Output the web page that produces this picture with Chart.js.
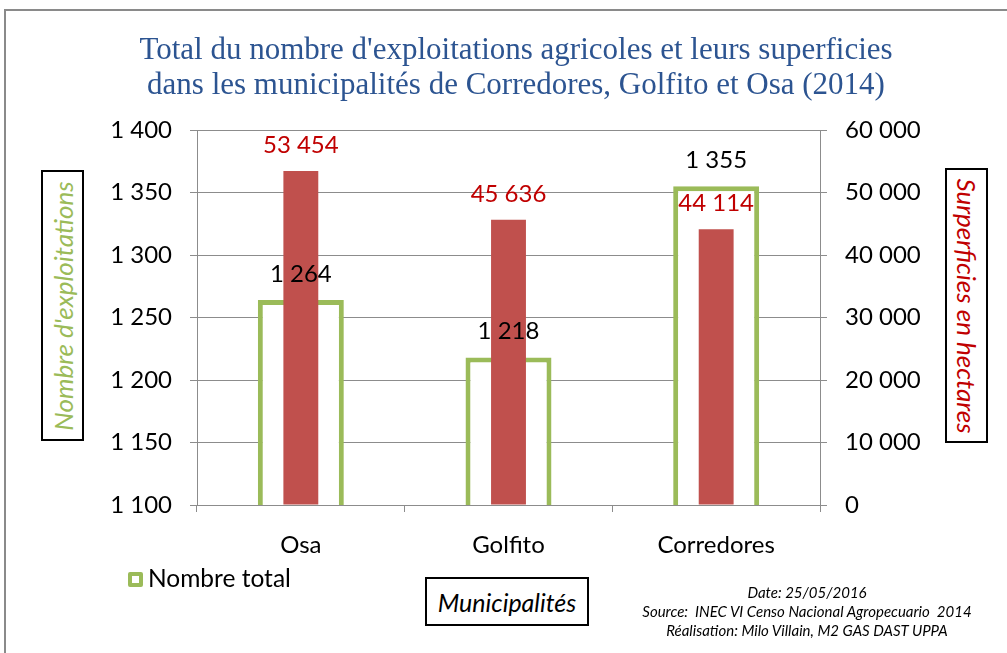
<!DOCTYPE html>
<html>
<head>
<meta charset="utf-8">
<script src="https://cdn.jsdelivr.net/npm/chart.js@4"></script>
<style>
  body { margin: 0; background: #fff; }
  #wrap { position: relative; width: 1007px; height: 653px; overflow: hidden; }
  #frame { position: absolute; left: 4px; top: 9px; width: 1100px; height: 800px; border: 2px solid #8a8a8a; }
  canvas { position: absolute; left: 0; top: 0; }
  .box { position: absolute; border: 2px solid #000; background: #fff; box-sizing: border-box; }
  .vtext { position: absolute; left: 50%; top: 50%; white-space: nowrap; font-family: Lato, sans-serif; font-style: italic; font-size: 26px; }
  #legend { position: absolute; left: 128px; top: 563px; font-family: Lato, sans-serif; font-size: 24.5px; color: #000; }
  #legend span.sw { display: inline-block; width: 15px; height: 15px; box-sizing: border-box; border: 4px solid #9bbb59; border-radius: 2px; vertical-align: 0px; margin-right: 5px; }
  #source { position: absolute; left: 607px; top: 583px; width: 400px; text-align: center; font-family: Lato, sans-serif; font-style: italic; font-size: 15px; line-height: 19px; color: #000; }
</style>
</head>
<body>
<div id="wrap">
  <div id="frame"></div>
  <canvas id="c" width="1007" height="653"></canvas>
  <div class="box" style="left:41px; top:170px; width:43px; height:271px;">
    <div class="vtext" style="color:#9bbb59; transform: translate(-50%,-50%) rotate(-90deg);">Nombre d'exploitations</div>
  </div>
  <div class="box" style="left:945px; top:168px; width:43px; height:275px;">
    <div class="vtext" style="color:#c00000; transform: translate(-50%,-50%) rotate(90deg);">Surperficies en hectares</div>
  </div>
  <div class="box" style="left:425px; top:577px; width:164px; height:49px; display:flex; align-items:center; justify-content:center;">
    <span style="font-family: Lato, sans-serif; font-style: italic; font-size: 25px;">Municipalités</span>
  </div>
  <div id="legend"><span class="sw"></span>Nombre total</div>
  <div id="source">Date: 25/05/2016<br>Source:&nbsp; INEC VI Censo Nacional Agropecuario&nbsp; 2014<br>Réalisation: Milo Villain, M2 GAS DAST UPPA</div>
</div>
<script>
const municipalites = ['Osa', 'Golfito', 'Corredores'];
const nombreTotal = [1264, 1218, 1355];
const superficies = [53454, 45636, 44114];
const titleLines = [
  "Total du nombre d'exploitations agricoles et leurs superficies",
  "dans les municipalités de Corredores, Golfito et Osa (2014)"
];

const GRID = '#8c8c8c';
const fmt = v => String(v).replace(/\B(?=(\d{3})+(?!\d))/g, ' ');

// value labels above each bar
const valueLabels = {
  id: 'valueLabels',
  afterDatasetsDraw(chart) {
    const ctx = chart.ctx;
    ctx.save();
    ctx.font = '24px Lato, sans-serif';
    ctx.textAlign = 'center';
    ctx.textBaseline = 'middle';
    chart.data.datasets.forEach((ds, i) => {
      const meta = chart.getDatasetMeta(i);
      ctx.fillStyle = ds.labelColor;
      meta.data.forEach((bar, j) => {
        ctx.fillText(fmt(ds.data[j]), bar.x, bar.y - 26);
      });
    });
    ctx.restore();
  }
};

new Chart(document.getElementById('c'), {
  type: 'bar',
  data: {
    labels: municipalites,
    datasets: [
      {
        label: 'Superficie',
        data: superficies,
        yAxisID: 'y2',
        backgroundColor: '#c0504d',
        borderWidth: 0,
        grouped: false,
        categoryPercentage: 1,
        barPercentage: 0.168,
        labelColor: '#c00000',
        order: 0
      },
      {
        label: 'Nombre total',
        data: nombreTotal,
        yAxisID: 'y',
        backgroundColor: '#ffffff',
        borderColor: '#9bbb59',
        borderWidth: 5,
        borderSkipped: false,
        grouped: false,
        categoryPercentage: 1,
        barPercentage: 0.414,
        labelColor: '#000000',
        order: 1
      }
    ]
  },
  options: {
    responsive: false,
    animation: false,
    layout: { padding: { top: 33, left: 25, right: 0, bottom: 0 } },
    plugins: {
      legend: { display: false },
      tooltip: { enabled: false },
      title: {
        display: true,
        text: titleLines,
        color: '#2c5491',
        font: { family: 'Liberation Serif', size: 31, weight: 'normal', lineHeight: 1.13 },
        padding: { top: 0, bottom: 27 }
      }
    },
    scales: {
      x: {
        grid: { drawOnChartArea: false, color: GRID, tickLength: 7, offset: true },
        border: { color: GRID },
        ticks: { color: '#000', font: { family: 'Lato', size: 24 }, padding: 19 },
        afterFit(scale) { scale.height = 148; }
      },
      y: {
        position: 'left',
        min: 1100,
        max: 1400,
        ticks: { stepSize: 50, color: '#000', font: { family: 'Lato', size: 24 }, padding: 18, callback: v => fmt(v) },
        grid: { color: GRID, tickLength: 7 },
        border: { color: GRID },
        afterFit(scale) { scale.width = 172; }
      },
      y2: {
        position: 'right',
        min: 0,
        max: 60000,
        ticks: { stepSize: 10000, color: '#000', font: { family: 'Lato', size: 24 }, padding: 18, callback: v => fmt(v) },
        grid: { drawOnChartArea: false, color: GRID, tickLength: 7 },
        border: { color: GRID },
        afterFit(scale) { scale.width = 187; }
      }
    }
  },
  plugins: [valueLabels]
});
</script>
</body>
</html>
